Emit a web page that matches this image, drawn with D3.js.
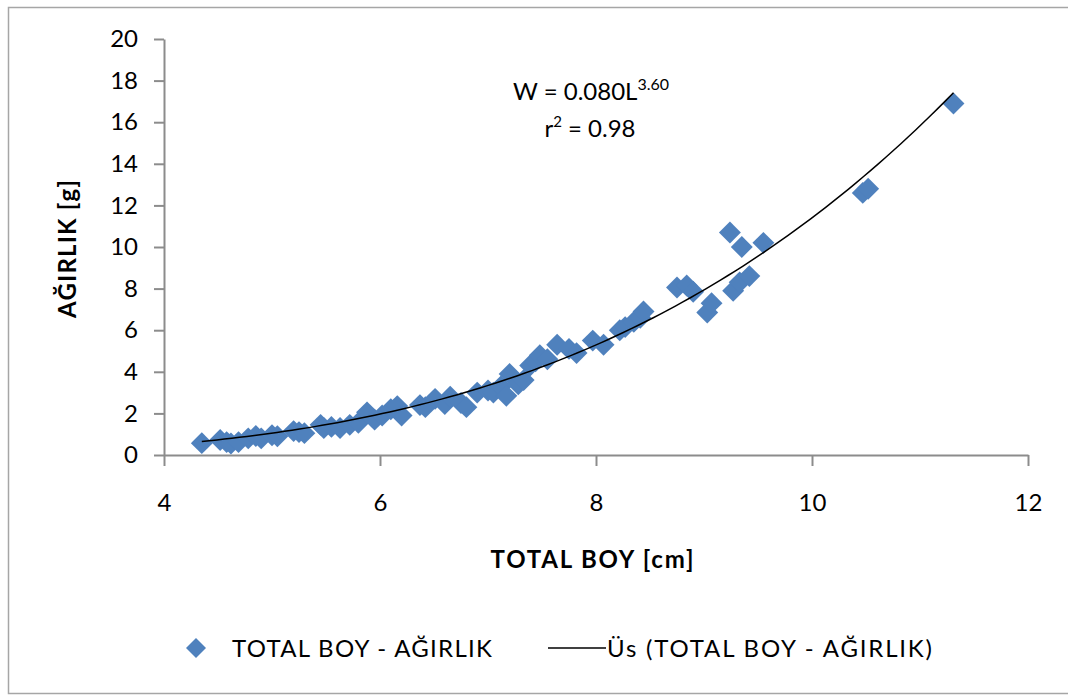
<!DOCTYPE html>
<meta charset="utf-8">
<head>
  <title>Total boy - agirlik</title>
</head>
<style>
body { margin: 0; background: #fff; }
svg text { font-family: Lato, "Open Sans", sans-serif; fill: #000; }
.axis path, .axis line { stroke: #8c8c8c; stroke-width: 2; }
.axis text { font-size: 24px; }
</style>
<body>
<script src="https://cdnjs.cloudflare.com/ajax/libs/d3/7.8.5/d3.min.js"></script>
<script>

// total length (cm)
var boy = [4.35, 4.52, 4.58, 4.62, 4.69, 4.78, 4.85, 4.9, 5.0, 5.05,
  5.2, 5.25, 5.3, 5.45, 5.48, 5.55, 5.63, 5.72, 5.8, 5.88,
  5.95, 6.02, 6.1, 6.16, 6.2, 6.37, 6.42, 6.51, 6.6, 6.65,
  6.75, 6.8, 6.9, 7.0, 7.05, 7.12, 7.17, 7.2, 7.28, 7.33,
  7.39, 7.44, 7.48, 7.55, 7.64, 7.75, 7.82, 7.97, 8.07, 8.22,
  8.27, 8.35, 8.41, 8.44, 8.75, 8.84, 8.9, 9.03, 9.07, 9.24,
  9.27, 9.33, 9.42, 9.35, 9.55, 10.47, 10.52, 11.31];
// weight (g)
var agirlik = [0.57, 0.72, 0.62, 0.55, 0.62, 0.8, 0.91, 0.8, 0.95, 0.9,
  1.15, 1.1, 1.05, 1.45, 1.3, 1.35, 1.3, 1.45, 1.55, 2.05,
  1.7, 1.9, 2.2, 2.35, 1.9, 2.4, 2.3, 2.7, 2.45, 2.8,
  2.5, 2.3, 3.0, 3.1, 3.0, 3.3, 2.85, 3.9, 3.4, 3.6,
  4.3, 4.5, 4.8, 4.6, 5.3, 5.1, 4.9, 5.5, 5.3, 6.0,
  6.15, 6.4, 6.6, 6.9, 8.05, 8.15, 7.85, 6.85, 7.3, 10.7,
  7.9, 8.3, 8.6, 10.0, 10.2, 12.6, 12.8, 16.9];

var xTicks = [4, 6, 8, 10, 12];
var yTicks = [0, 2, 4, 6, 8, 10, 12, 14, 16, 18, 20];

// power trendline W = a * L^b as drawn in the picture
var trendA = 0.00414, trendB = 3.44;

var w = 1068, h = 695;

var svg = d3.select("body").append("svg")
  .attr("width", w)
  .attr("height", h);

// outer chart frame
svg.append("rect")
  .attr("x", 8.5).attr("y", 7.5)
  .attr("width", 1080).attr("height", 686)
  .attr("fill", "#fff")
  .attr("stroke", "#a6a6a6")
  .attr("stroke-width", 1.5);

var x = d3.scaleLinear().domain([4, 12]).range([164, 1028]);
var y = d3.scaleLinear().domain([0, 20]).range([455, 39]);

svg.append("g")
  .attr("class", "axis")
  .attr("transform", "translate(0," + y(0) + ")")
  .call(d3.axisBottom(x).tickValues(xTicks).tickSize(11).tickSizeOuter(0).tickPadding(28));

svg.append("g")
  .attr("class", "axis")
  .attr("transform", "translate(" + x(4) + ",0)")
  .call(d3.axisLeft(y).tickValues(yTicks).tickSize(10).tickSizeOuter(0).tickPadding(16));

var xs = d3.extent(boy);
var trend = d3.range(0, 101).map(function(i) {
  var L = xs[0] + (xs[1] - xs[0]) * i / 100;
  return [L, trendA * Math.pow(L, trendB)];
});

var line = d3.line()
  .x(function(d) { return x(d[0]); })
  .y(function(d) { return y(d[1]); });

var diamond = d3.symbol().type(d3.symbolSquare).size(240);

svg.append("g").selectAll("path")
  .data(boy)
  .enter().append("path")
  .attr("d", diamond)
  .attr("transform", function(d, i) { return "translate(" + x(d) + "," + y(agirlik[i]) + ") rotate(45)"; })
  .attr("fill", "#4f81bd");

svg.append("path")
  .datum(trend)
  .attr("d", line)
  .attr("fill", "none")
  .attr("stroke", "#000")
  .attr("stroke-width", 1.5);

// equation
var eq = svg.append("text")
  .attr("x", 591).attr("y", 100)
  .attr("text-anchor", "middle")
  .style("font-size", "24px");
eq.append("tspan").text("W = 0.080L");
eq.append("tspan").attr("dy", -10).style("font-size", "16px").text("3.60");

var r2 = svg.append("text")
  .attr("x", 590).attr("y", 137)
  .attr("text-anchor", "middle")
  .style("font-size", "24px");
r2.append("tspan").text("r");
r2.append("tspan").attr("dy", -10).style("font-size", "15px").text("2");
r2.append("tspan").attr("dy", 10).text(" = 0.98");

// axis titles
svg.append("text")
  .attr("x", 592).attr("y", 568)
  .attr("text-anchor", "middle")
  .attr("textLength", 203)
  .style("font-size", "24px").style("font-weight", "bold")
  .text("TOTAL BOY [cm]");

svg.append("text")
  .attr("transform", "translate(76,249) rotate(-90)")
  .attr("text-anchor", "middle")
  .attr("textLength", 138)
  .style("font-size", "24px").style("font-weight", "bold")
  .text("AĞIRLIK [g]");

// legend
var leg = svg.append("g").attr("transform", "translate(0,648)");
leg.append("path")
  .attr("d", d3.symbol().type(d3.symbolSquare).size(200))
  .attr("transform", "translate(196,0) rotate(45)")
  .attr("fill", "#4f81bd");
leg.append("text").attr("x", 232).attr("y", 9)
  .attr("textLength", 260)
  .style("font-size", "24px")
  .text("TOTAL BOY - AĞIRLIK");
leg.append("line")
  .attr("x1", 548).attr("x2", 606)
  .attr("stroke", "#000").attr("stroke-width", 1.5);
leg.append("text").attr("x", 607).attr("y", 9)
  .attr("textLength", 325)
  .style("font-size", "24px")
  .text("Üs (TOTAL BOY - AĞIRLIK)");

</script>
</body>
</html>
